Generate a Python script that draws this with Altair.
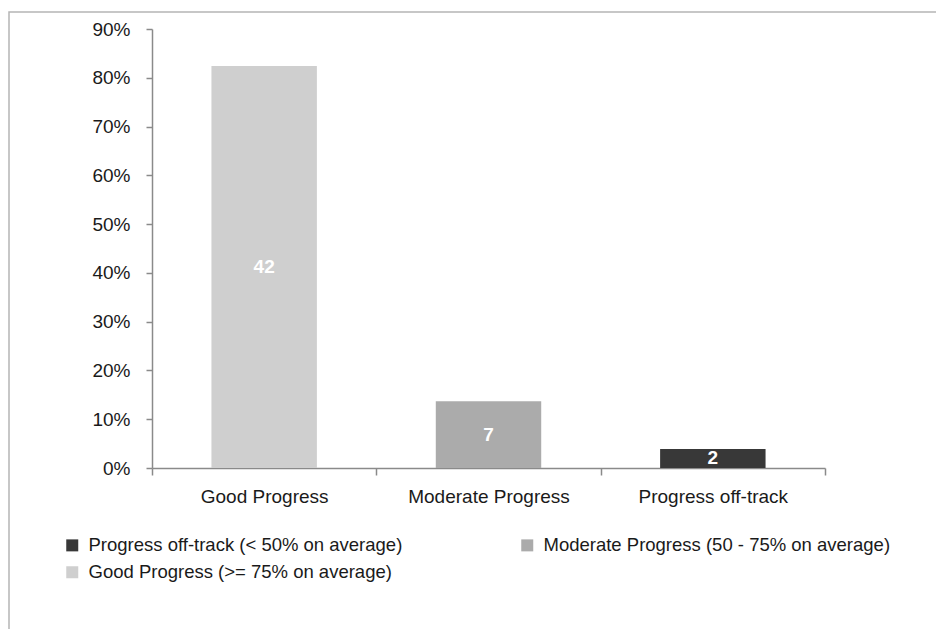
import altair as alt
import pandas as pd

categories = ["Good Progress", "Moderate Progress", "Progress off-track"]
shares = [0.824, 0.137, 0.039]
counts = [42, 7, 2]
legend_names = [
    "Good Progress (>= 75% on average)",
    "Moderate Progress (50 - 75% on average)",
    "Progress off-track (< 50% on average)",
]
# legend entries are filled column by column
legend_order = [
    "Progress off-track (< 50% on average)",
    "Good Progress (>= 75% on average)",
    "Moderate Progress (50 - 75% on average)",
]
colors = ["#383838", "#cfcfcf", "#ababab"]

df = pd.DataFrame({"cat": categories, "pct": shares, "n": counts, "grp": legend_names})

W, H = 673, 439

base = alt.Chart(df).encode(
    x=alt.X(
        "cat:N",
        sort=categories,
        title=None,
        scale=alt.Scale(paddingInner=0, paddingOuter=0),
        axis=alt.Axis(
            tickBand="extent",
            labelAngle=0,
            labelPadding=12,
            tickSize=7,
            labelFontSize=19,
            labelFont="Liberation Sans",
            labelColor="#1a1a1a",
            domainColor="#8a8a8a",
            tickColor="#8a8a8a",
            domainWidth=1.5,
            tickWidth=1.5,
        ),
    )
)

bars = base.mark_bar(width=alt.RelativeBandSize(0.47)).encode(
    y=alt.Y(
        "pct:Q",
        title=None,
        scale=alt.Scale(domain=[0, 0.9], nice=False),
        axis=alt.Axis(
            values=[0, 0.1, 0.2, 0.3, 0.4, 0.5, 0.6, 0.7, 0.8, 0.9],
            format=".0%",
            grid=False,
            tickSize=6,
            labelPadding=16,
            labelFontSize=19,
            labelFont="Liberation Sans",
            labelColor="#1a1a1a",
            domainColor="#8a8a8a",
            tickColor="#8a8a8a",
            domainWidth=1.5,
            tickWidth=1.5,
        ),
    ),
    color=alt.Color(
        "grp:N",
        scale=alt.Scale(domain=legend_order, range=colors),
        legend=alt.Legend(
            title=None,
            orient="none",
            legendX=-89,
            legendY=507,
            columns=2,
            columnPadding=115,
            rowPadding=8,
            symbolType="square",
            symbolSize=144,
            symbolStrokeWidth=0,
            labelOffset=7,
            labelFontSize=18.5,
            labelFont="Liberation Sans",
            labelColor="#1a1a1a",
            labelLimit=500,
        ),
    ),
)

labels = base.transform_calculate(mid="datum.pct / 2").mark_text(
    color="white", fontWeight="bold", fontSize=19, font="Liberation Sans", baseline="middle"
).encode(y=alt.Y("mid:Q"), text="n:Q")

frame = alt.Chart(pd.DataFrame({"a": [0]})).mark_rect(
    filled=False, stroke="#b5b5b5", strokeWidth=1.5
).encode(
    x=alt.value(-143), x2=alt.value(W + 200), y=alt.value(-17), y2=alt.value(H + 300)
)

chart = alt.layer(frame, bars, labels).properties(
    width=W,
    height=H,
    background="white",
    autosize=alt.AutoSizeParams(type="none"),
    padding={"left": 144, "top": 21, "right": 111, "bottom": 161},
).configure_view(strokeWidth=0)

chart.save("out.html", embed_options={"renderer": "svg", "actions": False})
